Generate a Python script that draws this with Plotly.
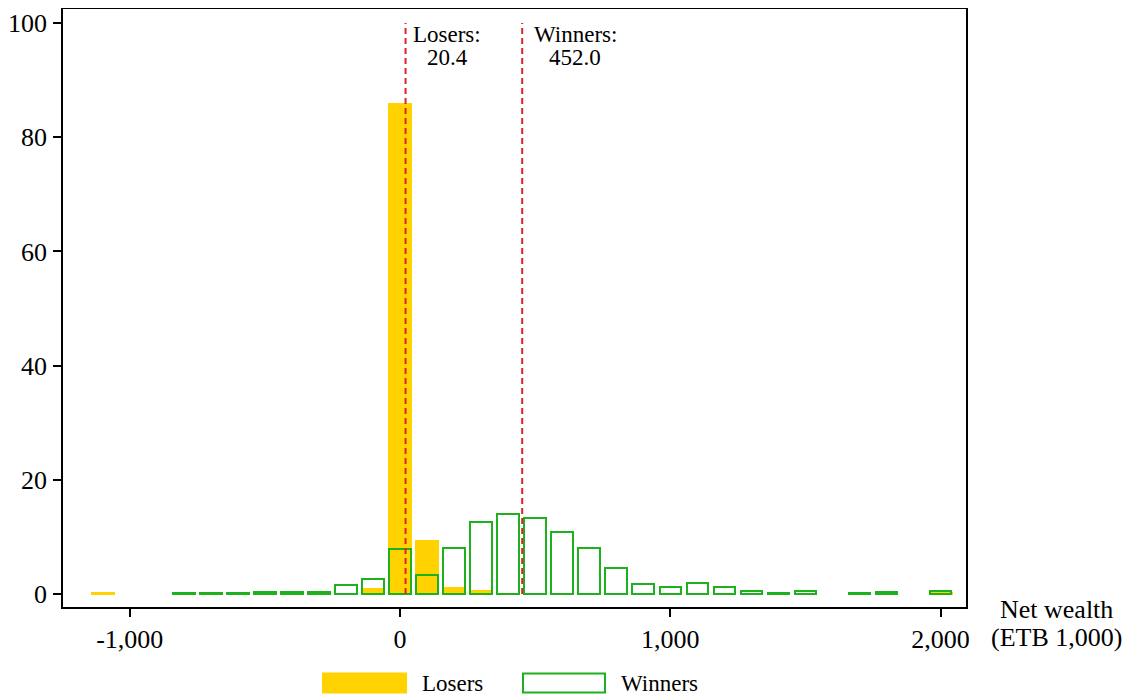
import plotly.graph_objects as go

# ---- data (bin centres in ETB 1,000, percent) ----
loser_bins = [-1100, -700, -400, -100, 0, 100, 200, 300, 400, 600, 2000]
loser_pct = [0.3, 0.1, 0.2, 1.0, 86.0, 9.5, 1.3, 0.7, 0.15, 0.15, 0.3]

winner_bins = [-800, -700, -600, -500, -400, -300, -200, -100, 0, 100, 200, 300,
               400, 500, 600, 700, 800, 900, 1000, 1100, 1200, 1300, 1400, 1500,
               1700, 1800, 2000]
winner_pct = [0.2, 0.2, 0.2, 0.3, 0.3, 0.3, 1.6, 2.6, 7.9, 3.4, 8.0, 12.7,
              14.0, 13.4, 10.8, 8.1, 4.5, 1.8, 1.2, 1.9, 1.3, 0.5, 0.2, 0.6,
              0.2, 0.3, 0.5]

mean_loser = 20.4
mean_winner = 452.0

x_tickvals = [-1000, 0, 1000, 2000]
x_ticktext = ["-1,000", "0", "1,000", "2,000"]
y_tickvals = [0, 20, 40, 60, 80, 100]

YELLOW = "#FFD200"
GREEN = "#1DB21D"
RED = "#E0202A"
FONT = "Liberation Serif"

fig = go.Figure()
fig.add_trace(go.Bar(x=loser_bins, y=loser_pct, width=89, name="Losers",
                     marker=dict(color=YELLOW, line=dict(width=0)), showlegend=False))
fig.add_trace(go.Bar(x=winner_bins, y=winner_pct, width=80, name="Winners",
                     marker=dict(color="rgba(0,0,0,0)", line=dict(color=GREEN, width=2)),
                     showlegend=False))
for m in [mean_loser, mean_winner]:
    fig.add_trace(go.Scatter(x=[m, m], y=[0, 100], mode="lines",
                             line=dict(color=RED, width=2, dash="6px,4px"),
                             showlegend=False, hoverinfo="skip"))

annos = []
for m, lab, shift in [(mean_loser, "Losers:", 41.5), (mean_winner, "Winners:", 53)]:
    annos.append(dict(x=m, y=97.9, xref="x", yref="y", text=lab, showarrow=False,
                      xanchor="center", yanchor="middle", xshift=shift,
                      font=dict(family=FONT, size=23, color="black")))
    annos.append(dict(x=m, y=94.0, xref="x", yref="y", text=f"{m:.1f}", showarrow=False,
                      xanchor="center", yanchor="middle", xshift=shift,
                      font=dict(family=FONT, size=23, color="black")))

# axis title at lower right (two lines)
for txt, yy in [("Net wealth", -0.0042), ("(ETB 1,000)", -0.051)]:
    annos.append(dict(x=1.1, y=yy, xref="paper", yref="paper",
                      text=txt, showarrow=False,
                      xanchor="center", yanchor="middle",
                      font=dict(family=FONT, size=26, color="black")))

# legend (drawn manually)
shapes = [
    dict(type="rect", xref="paper", yref="paper", x0=0.2868, x1=0.381, y0=-0.1445, y1=-0.1094,
         fillcolor=YELLOW, line=dict(width=0)),
    dict(type="rect", xref="paper", yref="paper", x0=0.5094, x1=0.6002, y0=-0.1428, y1=-0.1111,
         fillcolor="rgba(0,0,0,0)", line=dict(color=GREEN, width=2)),
]
annos.append(dict(x=0.3955, y=-0.1278, xref="paper", yref="paper", text="Losers",
                  showarrow=False, xanchor="left", yanchor="middle",
                  font=dict(family=FONT, size=23, color="black")))
annos.append(dict(x=0.616, y=-0.1278, xref="paper", yref="paper", text="Winners",
                  showarrow=False, xanchor="left", yanchor="middle",
                  font=dict(family=FONT, size=23, color="black")))

# page body has an 8px margin: size the figure so the plot lands where the reference has it
fig.update_layout(
    width=1132, height=690,
    margin=dict(l=55, r=174, t=1, b=91, autoexpand=False),
    paper_bgcolor="white", plot_bgcolor="white",
    barmode="overlay", bargap=0,
    font=dict(family=FONT, size=26, color="black"),
    annotations=annos, shapes=shapes,
    showlegend=False,
)
fig.update_xaxes(range=[-1247, 2094], tickvals=x_tickvals, ticktext=x_ticktext,
                 showline=True, mirror=True, linecolor="black", linewidth=1.5,
                 ticks="outside", ticklen=8, tickwidth=1.5, tickcolor="black",
                 showgrid=False, zeroline=False, ticklabelstandoff=0, automargin=False,
                 tickfont=dict(family=FONT, size=26, color="black"))
fig.update_yaxes(range=[-2.27, 102.45], tickvals=y_tickvals,
                 showline=True, mirror=True, linecolor="black", linewidth=1.5,
                 ticks="outside", ticklen=8, tickwidth=1.5, tickcolor="black",
                 showgrid=False, zeroline=False, ticklabelstandoff=1, automargin=False,
                 tickfont=dict(family=FONT, size=26, color="black"))

fig.write_html("out.html")
